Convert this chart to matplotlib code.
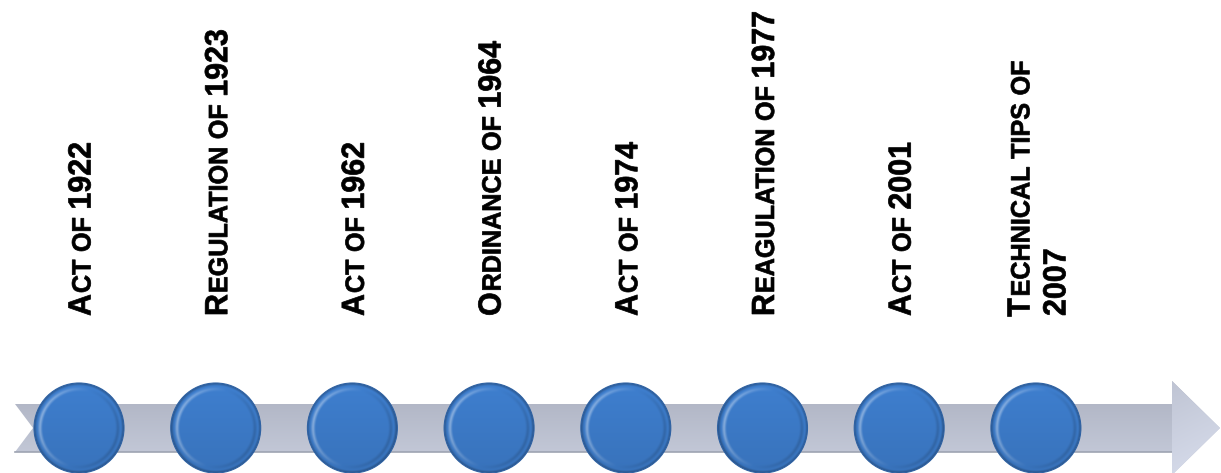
import numpy as np
import matplotlib
matplotlib.use('Agg')
import matplotlib.pyplot as plt
from matplotlib.patches import Polygon, Circle, PathPatch
from matplotlib.textpath import TextPath, text_to_path
from matplotlib.font_manager import FontProperties
from matplotlib.transforms import Affine2D

# timeline entries, each one a list of lines
labels = [
    ['Act of 1922'],
    ['Regulation of 1923'],
    ['Act of 1962'],
    ['Ordinance of 1964'],
    ['Act of 1974'],
    ['Reagulation of 1977'],
    ['Act of 2001'],
    ['Technical tips of', '2007'],
]

W, H = 1221, 473
BIG = 32.0     # em size in px
SMALL = 26.5   # small caps em size in px
SX = 0.95      # squeeze along the text direction
FONT = 'Liberation Sans'

fig = plt.figure(figsize=(W / 100, H / 100), dpi=100)
ax = fig.add_axes([0, 0, 1, 1])
ax.set_xlim(0, W)
ax.set_ylim(H, 0)
ax.axis('off')


def runs(word):
    # split a word into (text, size) runs: lowercase -> small caps
    out = []
    for ch in word:
        size = SMALL if ch.islower() else BIG
        if out and out[-1][1] == size:
            out[-1][0] += ch.upper()
        else:
            out.append([ch.upper(), size])
    return out


def smallcaps_line(x, y, line):
    # draw one line reading bottom to top, baseline at x, starting at y
    pos = y
    for k, word in enumerate(line.split(' ')):
        if k > 0:
            pos -= 0.26 * SMALL * SX
        for s, size in runs(word):
            prop = FontProperties(family=FONT, weight='bold', size=size)
            tp = TextPath((0, 0), s, prop=prop)
            w = text_to_path.get_text_width_height_descent(s, prop, ismath=False)[0]
            tr = Affine2D(np.array([[0, -1, x], [-SX, 0, pos], [0, 0, 1.0]]))
            ax.add_patch(PathPatch(tr.transform_path(tp), facecolor='black',
                                   edgecolor='black', lw=0.5, zorder=5))
            pos -= (w + 1.0) * SX


# arrow band
x0, head, tip = 15, 1172, 1220
ytop, ybot, yc = 404, 452, 428
arrow = Polygon([(x0, ytop), (head, ytop), (head, 381), (tip, yc), (head, 475),
                 (head, ybot), (x0, ybot), (33, yc)], closed=True,
                facecolor='none', edgecolor='none')
ax.add_patch(arrow)
gy = np.linspace(0, 1, 100)[:, None, None]
c_top = np.array([0.79, 0.81, 0.87])
c_bot = np.array([0.67, 0.69, 0.75])
img = c_top + (c_bot - c_top) * gy
img = np.repeat(img, 2, axis=1)
im = ax.imshow(img, extent=(x0, tip, 381, 475), aspect='auto', zorder=1,
               interpolation='bilinear')
im.set_clip_path(arrow)
ax.plot([x0, head], [ybot - 0.5, ybot - 0.5], color='#9ea4b2', lw=1.2, zorder=1.1)

# lighter arrow head
headpoly = Polygon([(head, 381), (tip, yc), (head, 475)], closed=True,
                   facecolor='none', edgecolor='none')
ax.add_patch(headpoly)
hx = np.linspace(0, 1, 50)[None, :, None]
hy = np.linspace(0, 1, 50)[:, None, None]
himg = np.array([0.83, 0.85, 0.91]) - 0.08 * hy + 0.02 * hx
himg = np.clip(himg, 0, 1)
him = ax.imshow(himg, extent=(head, tip, 381, 475), aspect='auto', zorder=1.2,
                interpolation='bilinear')
him.set_clip_path(headpoly)

# sphere texture
n = 200
yy, xx = np.mgrid[-1:1:n * 1j, -1:1:n * 1j]
r = np.sqrt(xx ** 2 + yy ** 2)
ang = np.arctan2(-yy, xx)
light = np.cos(ang - np.deg2rad(165))
base = np.array([0.235, 0.478, 0.78])
tex = np.ones((n, n, 3)) * base
tex = tex * (1.04 - 0.05 * (yy + 1))[:, :, None]
bevel = np.clip(1 - np.abs(r - 0.87) / 0.06, 0, 1)
tex += (0.4 * bevel * np.clip(light, 0, 1))[:, :, None] * (1 - base)
tex -= (0.15 * bevel * np.clip(-light, 0, 1))[:, :, None] * base
edge = np.clip((r - 0.94) / 0.06, 0, 1)
tex = tex * (1 - 0.3 * edge[:, :, None])
tex = np.clip(tex, 0, 1)

cx0, step, rad = 79, 136.7, 45
for i, lines in enumerate(labels):
    cx = cx0 + i * step
    circ = Circle((cx, yc), rad, facecolor='none', edgecolor='#2f62a3', lw=0.8, zorder=3)
    ax.add_patch(circ)
    s = ax.imshow(tex, extent=(cx - rad, cx + rad, yc + rad, yc - rad), zorder=2,
                  interpolation='bilinear')
    s.set_clip_path(circ)

    nl = len(lines)
    spacing = 36
    for j, line in enumerate(lines):
        bx = cx + 11.5 + (j - (nl - 1) / 2) * spacing
        smallcaps_line(bx, 316, line)

ax.set_xlim(0, W)
ax.set_ylim(H, 0)
fig.savefig('out.png', dpi=100, facecolor='white')
